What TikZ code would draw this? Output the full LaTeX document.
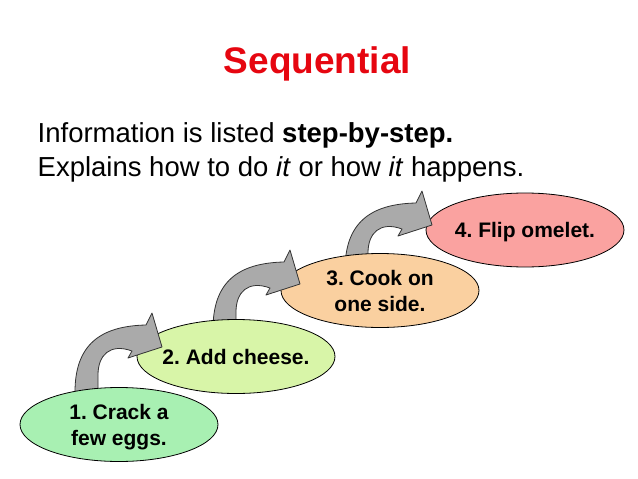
\documentclass[tikz,border=0pt]{standalone}
\usepackage{fontspec}
\setmainfont{Liberation Sans}
\usetikzlibrary{shapes.geometric}
\frenchspacing

\definecolor{titlered}{RGB}{230,6,16}
\definecolor{turngray}{RGB}{170,170,170}
\definecolor{eggs}{RGB}{168,240,178}
\definecolor{cheese}{RGB}{216,245,168}
\definecolor{cook}{RGB}{250,208,160}
\definecolor{flip}{RGB}{250,162,160}

% curved block arrow, drawn at the first step and shifted for the others
\newcommand{\turnarrow}[1]{%
  \draw [turn,shift={(#1)}] (75,400) -- (75,392)
    .. controls (75,345) and (100,326) .. (146,325) -- (152,313) -- (162,347)
    -- (128,358) -- (132,351) .. controls (110,343) and (98,355) .. (98,375)
    -- (98,400) -- cycle;}

\begin{document}
\begin{tikzpicture}
  [x=1pt,y=-1pt,
   stepbox/.style={ellipse,draw=black,line width=0.8pt,inner sep=-5pt,
     minimum width=198pt,minimum height=74pt,align=center,text depth=0pt,
     font=\fontsize{21}{26}\selectfont\bfseries},
   turn/.style={fill=turngray,draw=black!80,line width=0.8pt,line join=round},
   textline/.style={anchor=base west,inner sep=0pt,font=\fontsize{27.5}{33}\selectfont}]
  \useasboundingbox (0,0) rectangle (638,479);

  \node [anchor=base,inner sep=0pt,text=titlered,font=\fontsize{37}{44}\selectfont\bfseries] (title) at (317.5,73) {Sequential};
  \node [textline] (line1) at (37.5,142) {Information is listed \textbf{step-by-step.}};
  \node [textline] (line2) at (37.5,176) {Explains how to do \textit{it} or how \textit{it} happens.};

  \node [stepbox,fill=flip] (s4) at (525,230) {4. Flip omelet.};
  \turnarrow{270,-122}
  \node [stepbox,fill=cook] (s3) at (380,290.5) {3. Cook on\\one side.};
  \turnarrow{138,-63}
  \node [stepbox,fill=cheese] (s2) at (236,356.5) {2. Add cheese.};
  \turnarrow{0,0}
  \node [stepbox,fill=eggs] (s1) at (119,424.5) {1. Crack a\\few eggs.};

\end{tikzpicture}
\end{document}
